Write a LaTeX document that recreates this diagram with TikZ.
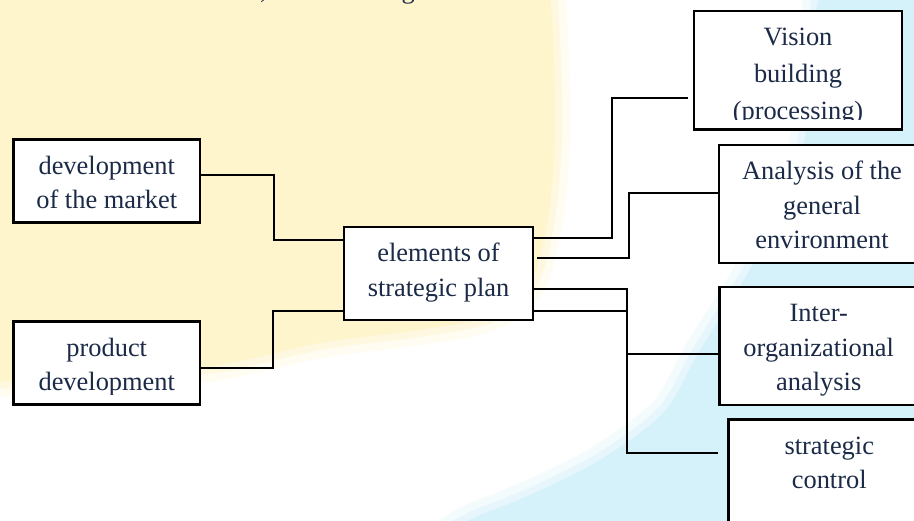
\documentclass[tikz,border=0pt]{standalone}
\usepackage{fontspec}
\setmainfont{Liberation Serif}
\usetikzlibrary{calc}
\definecolor{ink}{RGB}{27,42,71}
\definecolor{cream}{RGB}{255,245,205}
\definecolor{sky}{RGB}{213,242,251}
\tikzset{
  cbox/.style={draw=black, line width=2.6pt, fill=white, inner sep=0pt},
  ctext/.style={text=ink, align=center, inner sep=0pt, anchor=north,
                font=\fontsize{26.4}{34.5}\selectfont},
  conn/.style={draw=black, line width=1.8pt},
}
% box text: top-aligned, clipped a little above the bottom border
\newcommand\boxtext[2]{%
  \begin{scope}
    \clip (#1.north west) rectangle ([yshift=11pt]#1.south east);
    \node[ctext] at ([yshift=-16pt]#1.north) {\rule{0pt}{20pt}#2};
  \end{scope}}
\begin{document}
\begin{tikzpicture}[x=1pt,y=-1pt]
\useasboundingbox (0,0) rectangle (914,521);
\clip (0,0) rectangle (914,521);

% page background
\fill[white] (0,0) rectangle (914,521);
\def\creamedge{(-20,383) (0,382) (200,368) (320,343) (420,330) (490,316)
  (530,285) (548,220) (555,140) (554,60) (550,-20)}
\fill[cream] plot[smooth] coordinates {\creamedge} -- (-20,-20) -- cycle;
\draw[cream, line width=30pt, opacity=.25] plot[smooth] coordinates {\creamedge};
\draw[cream, line width=14pt, opacity=.45] plot[smooth] coordinates {\creamedge};
\def\skyedge{(822,-20) (812,40) (805,137) (785,200) (745,278) (700,350)
  (664,412) (600,460) (530,495) (467,521) (430,545)}
\fill[sky] plot[smooth] coordinates {\skyedge} -- (940,545) -- (940,-20) -- cycle;
\draw[sky, line width=30pt, opacity=.25] plot[smooth] coordinates {\skyedge};
\draw[sky, line width=14pt, opacity=.45] plot[smooth] coordinates {\skyedge};

% running text above the chart
\node[text=ink, anchor=base east, inner sep=0pt,
      font=\fontsize{26.4}{30}\selectfont] (lead) at (415,-1.5)
  {evaluation and assessment, the following};

% boxes
\node[cbox, minimum width=186.5pt, minimum height=83pt]   (market)  at (106.75,181) {};
\node[cbox, minimum width=186.5pt, minimum height=83.4pt] (product) at (106.75,363) {};
\node[cbox, minimum width=189pt,   minimum height=93pt]   (plan)    at (438.5,273.5) {};
\node[cbox, minimum width=208pt,   minimum height=118.5pt](vis)     at (798,70.25) {};
\node[cbox, minimum width=206pt,   minimum height=118pt]  (env)     at (822,204) {};
\node[cbox, minimum width=198.5pt, minimum height=118pt]  (inter)   at (818.75,346) {};
\node[cbox, minimum width=201.5pt, minimum height=117.5pt](ctrl)    at (829.25,478.25) {};

\boxtext{market}{development\\of the market}
\boxtext{product}{product\\development}
\boxtext{plan}{elements of\\strategic plan}
\boxtext{vis}{Vision\\[2.2pt]building\\[2.2pt](processing)}
\boxtext{env}{Analysis of the\\general\\environment}
\boxtext{inter}{Inter-\\organizational\\analysis}
\boxtext{ctrl}{strategic\\control}

% connectors
\draw[conn] ([yshift=5.7pt]market.east) -- ++(73,0) |- ([yshift=33.5pt]plan.west);
\draw[conn] ([yshift=-4.7pt]product.east) -- ++(72,0) |- ([yshift=-37.5pt]plan.west);
\draw[conn] ([yshift=35.2pt]plan.east) -- ++(78,0) |- ([xshift=-5pt,yshift=-27.5pt]vis.west);
\draw[conn] ([xshift=2.5pt,yshift=15.8pt]plan.east) -- ++(92.5,0) |- ([yshift=11.3pt]env.west);
\draw[conn] ([yshift=-15.5pt]plan.east) -- ++(93,0) |- ([yshift=-8.3pt]inter.west);
\draw[conn] ([yshift=-37.5pt]plan.east) -- ++(93,0) |- ([xshift=-9.2pt,yshift=25.5pt]ctrl.west);
\end{tikzpicture}
\end{document}
